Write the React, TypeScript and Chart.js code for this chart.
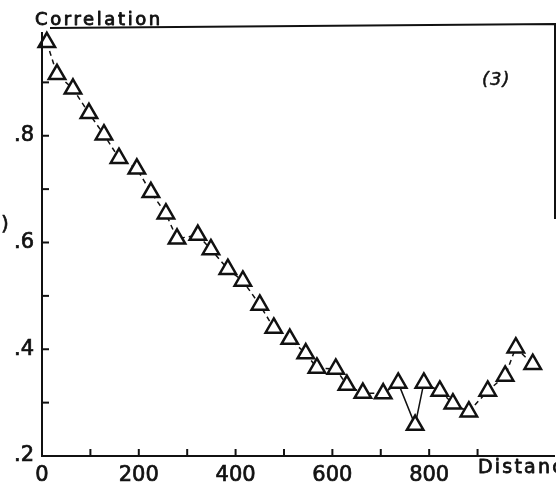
import React, { useEffect, useRef } from "react";
import { Chart, registerables } from "chart.js";

Chart.register(...registerables);

const distances = [10, 31, 64, 97, 128, 159, 196, 225, 256, 279, 322, 349, 384, 415, 450, 479, 512, 545, 568, 607, 630, 663, 705, 736, 771, 789, 822, 849, 882, 921, 957, 979, 1014];
const correlations = [0.975, 0.915, 0.888, 0.842, 0.802, 0.758, 0.738, 0.694, 0.654, 0.607, 0.614, 0.587, 0.55, 0.528, 0.483, 0.44, 0.419, 0.392, 0.365, 0.363, 0.333, 0.318, 0.317, 0.337, 0.258, 0.337, 0.322, 0.298, 0.283, 0.322, 0.35, 0.403, 0.372];
const xLabels = [0, 200, 400, 600, 800];
const yLabels = [0.2, 0.4, 0.6, 0.8];
const solidSegments = [23, 24];

const FONT = "'DejaVu Sans', sans-serif";
const INK = "#111";

function boldText(ctx: any, s: string, x: number, y: number, w: number) {
  ctx.lineWidth = w;
  ctx.strokeText(s, x, y);
  ctx.fillText(s, x, y);
}

const framePlugin = {
  id: "frame",
  afterDraw(chart: any) {
    const { ctx, chartArea: a, scales } = chart;
    ctx.save();
    ctx.strokeStyle = INK;
    ctx.lineCap = "butt";
    ctx.lineWidth = 2;
    ctx.beginPath();
    ctx.moveTo(a.left, a.top + 3);
    ctx.lineTo(a.left, a.bottom);
    ctx.lineTo(a.right, a.bottom);
    ctx.stroke();
    ctx.beginPath();
    ctx.moveTo(a.left + 8, a.top - 1);
    ctx.lineTo(a.right, a.top - 5);
    ctx.lineTo(a.right, a.top + 190);
    ctx.stroke();
    const xs = scales.x;
    xs.ticks.forEach((t: any) => {
      if (t.value <= xs.min || t.value >= xs.max) return;
      const px = xs.getPixelForValue(t.value);
      ctx.beginPath();
      ctx.moveTo(px, a.bottom);
      ctx.lineTo(px, a.bottom - 7);
      ctx.stroke();
    });
    const ys = scales.y;
    ys.ticks.forEach((t: any) => {
      if (t.value <= ys.min + 1e-6 || t.value >= ys.max - 1e-6) return;
      const py = ys.getPixelForValue(t.value);
      ctx.beginPath();
      ctx.moveTo(a.left, py);
      ctx.lineTo(a.left + 7, py);
      ctx.stroke();
    });
    ctx.fillStyle = INK;
    ctx.textBaseline = "alphabetic";
    ctx.textAlign = "left";
    ctx.lineJoin = "round";
    (ctx as any).letterSpacing = "2.6px";
    ctx.font = `18px ${FONT}`;
    boldText(ctx, "Correlation", 35, 25, 0.9);
    (ctx as any).letterSpacing = "2.2px";
    ctx.font = `19px ${FONT}`;
    boldText(ctx, "Distance", 478, 473, 0.8);
    (ctx as any).letterSpacing = "1px";
    ctx.font = `italic 18px ${FONT}`;
    boldText(ctx, "(3)", 482, 85, 0.5);
    (ctx as any).letterSpacing = "0px";
    ctx.font = `20px ${FONT}`;
    boldText(ctx, ")", 1, 230, 0.6);
    ctx.restore();
  },
};

export default function App() {
  const ref = useRef<HTMLCanvasElement>(null);
  useEffect(() => {
    if (!ref.current) return;
    const chart = new Chart(ref.current, {
      type: "line",
      data: {
        datasets: [
          {
            data: distances.map((d, i) => ({ x: d, y: correlations[i] })),
            borderColor: INK,
            borderWidth: 1.5,
            borderDash: [5, 4],
            segment: {
              borderDash: (c: any) => (solidSegments.includes(c.p0DataIndex) ? [] : [5, 4]),
            },
            pointStyle: "triangle",
            pointRadius: 9.5,
            pointBorderWidth: 2.5,
            pointBorderColor: INK,
            pointBackgroundColor: "#fff",
            tension: 0,
            clip: false,
          },
        ],
      },
      options: {
        responsive: false,
        animation: false,
        layout: { autoPadding: false, padding: { top: 29, right: 1, left: 0, bottom: 0 } },
        plugins: { legend: { display: false }, tooltip: { enabled: false } },
        scales: {
          x: {
            type: "linear",
            min: 0,
            max: 1060,
            grid: { display: false, drawTicks: false },
            border: { display: false },
            afterFit: (s: any) => {
              s.height = 27;
              s.paddingLeft = 0;
              s.paddingRight = 0;
            },
            ticks: {
              stepSize: 100,
              autoSkip: false,
              maxRotation: 0,
              padding: 7,
              color: INK,
              textStrokeColor: INK,
              textStrokeWidth: 0.7,
              font: { family: FONT, size: 21 },
              callback: (v: any) => (xLabels.includes(Math.round(v)) ? String(Math.round(v)) : ""),
            },
          },
          y: {
            type: "linear",
            min: 0.2,
            max: 1.0,
            grid: { display: false, drawTicks: false },
            border: { display: false },
            afterFit: (s: any) => {
              s.width = 42;
              s.paddingTop = 0;
              s.paddingBottom = 0;
            },
            ticks: {
              stepSize: 0.1,
              autoSkip: false,
              padding: 8,
              color: INK,
              textStrokeColor: INK,
              textStrokeWidth: 0.7,
              font: { family: FONT, size: 21 },
              callback: (v: any) => {
                const r = Math.round(Number(v) * 10) / 10;
                return yLabels.some((l) => Math.abs(l - r) < 1e-6) ? "." + Math.round(r * 10) : "";
              },
            },
          },
        },
      },
      plugins: [framePlugin],
    });
    return () => chart.destroy();
  }, []);
  return (
    <div style={{ position: "fixed", left: 0, top: 0, width: 556, height: 483, background: "#fff" }}>
      <canvas ref={ref} width={556} height={483} style={{ width: 556, height: 483, display: "block" }} />
    </div>
  );
}
